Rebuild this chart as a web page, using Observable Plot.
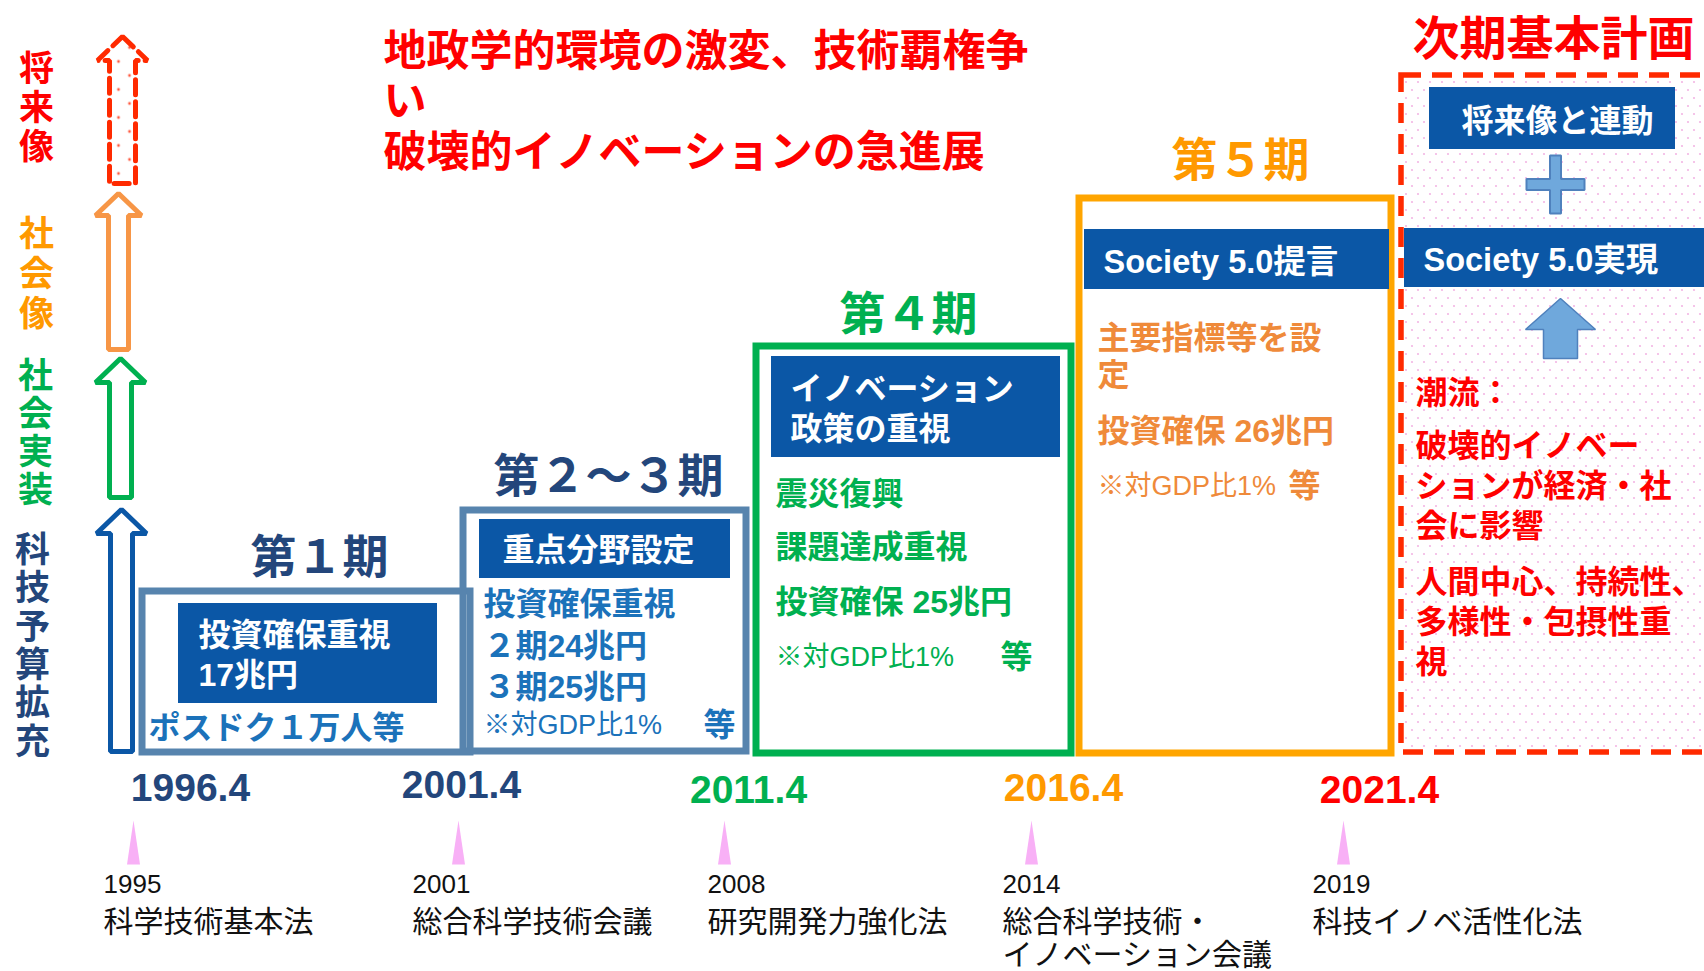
<!DOCTYPE html>
<html><head><meta charset="utf-8">
<script src="https://cdn.jsdelivr.net/npm/d3@7"></script>
<script src="https://cdn.jsdelivr.net/npm/@observablehq/plot@0.6"></script>
<style>body{margin:0;background:#fff;overflow:hidden}svg{display:block}</style>
</head><body><div id="chart"></div>
<script>
// ================= content (data) =================
const sideLabels   = ["将来像", "社会像", "社会実装", "科技予算拡充"];
const headline     = ["地政学的環境の激変、技術覇権争", "い", "破壊的イノベーションの急進展"];
const periodNames  = ["第１期", "第２～３期", "第４期", "第５期", "次期基本計画"];
const startDates   = ["1996.4", "2001.4", "2011.4", "2016.4", "2021.4"];
const lawYears     = ["1995", "2001", "2008", "2014", "2019"];
const lawNames     = ["科学技術基本法", "総合科学技術会議", "研究開発力強化法", "総合科学技術・\nイノベーション会議", "科技イノベ活性化法"];
const headerTexts  = ["投資確保重視\n17兆円", "重点分野設定", "イノベーション\n政策の重視", "Society 5.0提言", "Society 5.0実現", "将来像と連動"];
const p1Notes      = ["ポスドク１万人等"];
const p23Notes     = ["投資確保重視", "２期24兆円", "３期25兆円"];
const p4Notes      = ["震災復興", "課題達成重視", "投資確保 25兆円"];
const p5Notes      = ["主要指標等を設", "定", "投資確保 26兆円"];
const gdpNotes     = ["※対GDP比1%", "※対GDP比1%", "※対GDP比1%"];
const etcMarks     = ["等", "等", "等"];
const trendNotes   = ["潮流：", "破壊的イノベー", "ションが経済・社", "会に影響", "人間中心、持続性、", "多様性・包摂性重", "視"];

// ================= layout & style =================
const W = 1704, H = 971;
const FONT = "'Liberation Sans','Noto Sans CJK JP',sans-serif";
const CJK = "'Noto Sans CJK JP',sans-serif";
const C = {
  navy: "#23467B", steel: "#5784AE", fill: "#0B57A6", mid: "#1B72BA",
  green: "#00B050", orange: "#FF9900", orangeBox: "#FFA500", orangeText: "#EF8A3A",
  red: "#FF0000", dashRed: "#FF2A00", pink: "#F8B0F6", lightBlue: "#6FA8DC", edgeBlue: "#4F81BD",
  arrowOrange: "#F79646", arrowBlue: "#0B57A6"
};

const sideLayout = [
  {x: 36, y0: 69, step: 39, color: C.red},
  {x: 36, y0: 234, step: 40, color: C.orange},
  {x: 35, y0: 376, step: 38, color: C.green},
  {x: 32, y0: 550, step: 38.4, color: C.navy}
];
const headlineLayout = {x: 383, ys: [52, 102, 153]};
const periodLayout = [
  {x: 319, y: 558, color: C.navy, size: 46},
  {x: 608, y: 477, color: C.navy, size: 46},
  {x: 908, y: 315, color: C.green, size: 46},
  {x: 1240, y: 161, color: C.orange, size: 46},
  {x: 1553, y: 39, color: C.red, size: 47}
];
const boxLayout = [
  {x1: 142, x2: 470, y1: 591, y2: 752, stroke: C.steel},
  {x1: 463, x2: 746, y1: 510, y2: 751, stroke: C.steel},
  {x1: 756, x2: 1071, y1: 346, y2: 753, stroke: C.green},
  {x1: 1079, x2: 1391, y1: 198, y2: 753, stroke: C.orangeBox}
];
const nextBox = {x1: 1401, x2: 1740, y1: 75, y2: 752};
const headerLayout = [
  {x1: 178, x2: 437, y1: 603, y2: 703, tx: 198, ty: 653, anchor: "start", size: 32},
  {x1: 479, x2: 730, y1: 519, y2: 578, tx: 598, ty: 548, anchor: "middle", size: 32},
  {x1: 771, x2: 1060, y1: 356, y2: 457, tx: 790, ty: 407, anchor: "start", size: 32},
  {x1: 1084, x2: 1389, y1: 229, y2: 289, tx: 1103, ty: 260, anchor: "start", size: 32.5},
  {x1: 1404, x2: 1704, y1: 228, y2: 287, tx: 1423, ty: 258, anchor: "start", size: 32.5},
  {x1: 1429, x2: 1675, y1: 87, y2: 149, tx: 1557, ty: 119, anchor: "middle", size: 32, spacing: 4}
];
const noteLayout = [
  {notes: p1Notes,  x: 148,  ys: [728], color: C.mid},
  {notes: p23Notes, x: 483,  ys: [604, 646, 687], color: C.mid},
  {notes: p4Notes,  x: 775,  ys: [494, 547, 602], color: C.green},
  {notes: p5Notes,  x: 1097, ys: [338, 375, 431], color: C.orangeText}
];
const gdpLayout = [
  {x: 483, y: 725, etcX: 703, color: C.mid},
  {x: 775, y: 657, etcX: 1000, color: C.green},
  {x: 1097, y: 486, etcX: 1288, color: C.orangeText}
];
const trendLayout = {x: 1415, ys: [393, 446, 486, 526, 582, 622, 662]};
const dateLayout = {xs: [190, 461, 748, 1063, 1379], ys: [788, 785, 790, 788, 790],
  colors: [C.navy, C.navy, C.green, C.orange, C.red]};
const triLayout = {xs: [133, 458, 724, 1031, 1343], tip: 820, base: 864, half: 6.5};
const lawLayout = {xs: [103, 412, 707, 1002, 1312], yearY: 884, nameTop: 908};
const arrowLayout = [
  {cx: 122, tip: 36, base: 60, bottom: 183, hh: 25, sh: 13, stroke: C.dashRed, dash: "15,7", fill: "url(#dots2)"},
  {cx: 118, tip: 193, base: 215, bottom: 349, hh: 23, sh: 10, stroke: C.arrowOrange, fill: "white"},
  {cx: 120, tip: 358, base: 382, bottom: 497, hh: 25, sh: 11, stroke: C.green, fill: "white"},
  {cx: 121, tip: 509, base: 533, bottom: 751, hh: 25, sh: 11, stroke: C.arrowBlue, fill: "white"}
];
const upArrow = {cx: 1560, tip: 298, base: 329, bottom: 358, hh: 35, sh: 17};
const plusSign = {cx: 1555, cy: 184, arm: 29, half: 5.5};

// ================= geometry helpers =================
function arrowPoly(a) {
  const {cx, tip, base, bottom, hh, sh} = a;
  return [[cx, tip], [cx + hh, base], [cx + sh, base], [cx + sh, bottom],
          [cx - sh, bottom], [cx - sh, base], [cx - hh, base]].map(([x, y]) => ({x, y}));
}
function plusPoly(p) {
  const {cx, cy, arm: a, half: t} = p;
  return [[cx - t, cy - a], [cx + t, cy - a], [cx + t, cy - t], [cx + a, cy - t], [cx + a, cy + t], [cx + t, cy + t],
          [cx + t, cy + a], [cx - t, cy + a], [cx - t, cy + t], [cx - a, cy + t], [cx - a, cy - t], [cx - t, cy - t]]
    .map(([x, y]) => ({x, y}));
}
const triPts = triLayout.xs.flatMap((x, i) => [
  {id: i, x, y: triLayout.tip}, {id: i, x: x + triLayout.half, y: triLayout.base}, {id: i, x: x - triLayout.half, y: triLayout.base}
]);

// ================= marks =================
const marks = [];
marks.push(Plot.rect([nextBox], {x1: "x1", x2: "x2", y1: "y1", y2: "y2",
  fill: "url(#dots)", stroke: C.dashRed, strokeWidth: 5.5, strokeDasharray: "20,11"}));
for (const b of boxLayout) {
  marks.push(Plot.rect([b], {x1: "x1", x2: "x2", y1: "y1", y2: "y2", fill: "none", stroke: b.stroke, strokeWidth: 7}));
}
marks.push(Plot.rect(headerLayout, {x1: "x1", x2: "x2", y1: "y1", y2: "y2", fill: C.fill}));
headerTexts.forEach((t, i) => {
  const h = headerLayout[i];
  marks.push(Plot.text([{t, x: h.tx, y: h.ty}], {x: "x", y: "y", text: "t", fill: "white", fontSize: h.size,
    fontWeight: "bold", fontFamily: FONT, textAnchor: h.anchor, lineAnchor: "middle", lineHeight: 1.22,
    ariaLabel: h.spacing ? "spaced-header" : "header"}));
});
for (const a of arrowLayout) {
  marks.push(Plot.line(arrowPoly(a), {x: "x", y: "y", curve: "linear-closed", fill: a.fill, stroke: a.stroke,
    strokeWidth: 5, strokeLinejoin: "miter", strokeDasharray: a.dash}));
}
marks.push(Plot.line(plusPoly(plusSign), {x: "x", y: "y", curve: "linear-closed", fill: C.lightBlue, stroke: C.edgeBlue, strokeWidth: 2, strokeLinejoin: "miter"}));
marks.push(Plot.line(arrowPoly(upArrow), {x: "x", y: "y", curve: "linear-closed", fill: C.lightBlue, stroke: C.edgeBlue, strokeWidth: 1.5, strokeLinejoin: "miter"}));
marks.push(Plot.line(triPts, {x: "x", y: "y", z: "id", curve: "linear-closed", fill: C.pink, stroke: "none"}));

// side vertical labels, one character per row
sideLabels.forEach((t, i) => {
  const s = sideLayout[i];
  marks.push(Plot.text(t.split("").map((ch, k) => ({t: ch, x: s.x, y: s.y0 + k * s.step})), {x: "x", y: "y", text: "t", fill: s.color,
    fontSize: 35, fontWeight: "bold", fontFamily: CJK, lineAnchor: "middle"}));
});
marks.push(Plot.text(headline.map((t, i) => ({t, x: headlineLayout.x, y: headlineLayout.ys[i]})),
  {x: "x", y: "y", text: "t", fill: C.red, fontSize: 43, fontWeight: "bold", fontFamily: CJK, textAnchor: "start", lineAnchor: "middle"}));
periodNames.forEach((t, i) => {
  const p = periodLayout[i];
  marks.push(Plot.text([{t, x: p.x, y: p.y}], {x: "x", y: "y", text: "t", fill: p.color, fontSize: p.size,
    fontWeight: "bold", fontFamily: CJK, lineAnchor: "middle"}));
});
for (const n of noteLayout) {
  marks.push(Plot.text(n.notes.map((t, i) => ({t, x: n.x, y: n.ys[i]})), {x: "x", y: "y", text: "t", fill: n.color,
    fontSize: 32, fontWeight: "bold", fontFamily: FONT, textAnchor: "start", lineAnchor: "middle"}));
}
gdpNotes.forEach((t, i) => {
  const g = gdpLayout[i];
  marks.push(Plot.text([{t, x: g.x, y: g.y}], {x: "x", y: "y", text: "t", fill: g.color, fontSize: 27,
    fontFamily: FONT, textAnchor: "start", lineAnchor: "middle"}));
  marks.push(Plot.text([{t: etcMarks[i], x: g.etcX, y: g.y}], {x: "x", y: "y", text: "t", fill: g.color, fontSize: 32,
    fontWeight: "bold", fontFamily: CJK, textAnchor: "start", lineAnchor: "middle"}));
});
marks.push(Plot.text(trendNotes.map((t, i) => ({t, x: trendLayout.x, y: trendLayout.ys[i]})),
  {x: "x", y: "y", text: "t", fill: C.red, fontSize: 32, fontWeight: "bold", fontFamily: CJK, textAnchor: "start", lineAnchor: "middle"}));
marks.push(Plot.text(startDates.map((t, i) => ({t, x: dateLayout.xs[i], y: dateLayout.ys[i], c: dateLayout.colors[i]})),
  {x: "x", y: "y", text: "t", fill: "c", fontSize: 39, fontWeight: "bold", fontFamily: "'Liberation Sans',sans-serif", lineAnchor: "middle"}));
marks.push(Plot.text(lawYears.map((t, i) => ({t, x: lawLayout.xs[i], y: lawLayout.yearY})),
  {x: "x", y: "y", text: "t", fill: "#111", fontSize: 26, fontFamily: FONT, textAnchor: "start", lineAnchor: "middle"}));
marks.push(Plot.text(lawNames.map((t, i) => ({t, x: lawLayout.xs[i], y: lawLayout.nameTop})),
  {x: "x", y: "y", text: "t", fill: "#111", fontSize: 30, fontFamily: FONT, textAnchor: "start", lineAnchor: "top", lineHeight: 1.1}));

const svg = Plot.plot({
  width: W, height: H, margin: 0,
  x: {domain: [0, W], range: [0, W], axis: null},
  y: {domain: [0, H], range: [0, H], axis: null},
  color: {type: "identity"},
  style: {background: "white"},
  marks
});
// letter spacing for the spaced header
d3.select(svg).selectAll("g[aria-label='spaced-header'] text").attr("letter-spacing", headerLayout[5].spacing);
// patterns for dotted fills
const defs = d3.select(svg).insert("defs", ":first-child");
const p1 = defs.append("pattern").attr("id", "dots").attr("patternUnits", "userSpaceOnUse").attr("width", 12).attr("height", 16);
p1.append("circle").attr("cx", 2).attr("cy", 2).attr("r", 1.1).attr("fill", "#F3B6E4");
p1.append("circle").attr("cx", 8).attr("cy", 10).attr("r", 1.1).attr("fill", "#F3B6E4");
const p2 = defs.append("pattern").attr("id", "dots2").attr("patternUnits", "userSpaceOnUse").attr("width", W).attr("height", 28);
p2.append("rect").attr("width", W).attr("height", 28).attr("fill", "white");
p2.append("circle").attr("cx", 118).attr("cy", 5).attr("r", 1.4).attr("fill", "#FF5A40");
p2.append("circle").attr("cx", 129).attr("cy", 19).attr("r", 1.4).attr("fill", "#FF5A40");
document.getElementById("chart").appendChild(svg);
</script>
</body></html>
